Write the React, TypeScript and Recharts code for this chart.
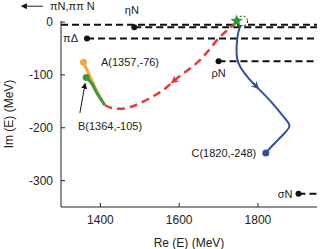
import React from "react";
import { ComposedChart, Line, XAxis, YAxis, ReferenceDot } from "recharts";

// pole trajectories, Re/Im of E in MeV
const orangePath = [
    { x: 1357, y: -76 }, { x: 1371, y: -99 }, { x: 1386, y: -123 },
    { x: 1399, y: -142 }, { x: 1411, y: -157 },
];
const greenPath = [
    { x: 1364, y: -105 }, { x: 1378, y: -116 }, { x: 1390, y: -133 },
    { x: 1402, y: -147 }, { x: 1411, y: -157 },
];
const redPath = [
    { x: 1411, y: -157 }, { x: 1430, y: -163 }, { x: 1455, y: -164 }, { x: 1480, y: -160 },
    { x: 1510, y: -150 }, { x: 1540, y: -138 }, { x: 1566, y: -125 }, { x: 1600, y: -103 },
    { x: 1650, y: -74 }, { x: 1692, y: -38 }, { x: 1720, y: -17 }, { x: 1746, y: 0 },
];
const bluePath = [
    { x: 1757, y: -4 }, { x: 1750, y: -20 }, { x: 1746, y: -45 }, { x: 1747, y: -68 },
    { x: 1756, y: -86 }, { x: 1776, y: -106 }, { x: 1800, y: -125 }, { x: 1836, y: -153 },
    { x: 1866, y: -180 }, { x: 1880, y: -196 }, { x: 1868, y: -210 }, { x: 1850, y: -224 },
    { x: 1834, y: -236 }, { x: 1820, y: -248 },
];
const redArrow = [{ x: 1600, y: -103 }, { x: 1582, y: -114 }];
const blueArrow = [{ x: 1786, y: -114 }, { x: 1800, y: -125 }];
const bArrow = [{ x: 1348, y: -172 }, { x: 1361, y: -117 }];

const thresholds = [
    { name: "", x: 1300, y: -5 },
    { name: "ηN", x: 1486, y: -10 },
    { name: "πΔ", x: 1366, y: -31 },
    { name: "ρN", x: 1700, y: -74 },
    { name: "σN", x: 1903, y: -325 },
];
const xTicks = [1400, 1600, 1800];
const yTicks = [0, -100, -200, -300];
const xMin = 1300;
const xMax = 1950;

const dotFirst = (color: string) => (p: any) =>
    p.index === 0
        ? <circle key={p.index} cx={p.cx} cy={p.cy} r={3} fill={color} />
        : <g key={p.index} />;

const StarShape = (p: any) => {
    const pts = [];
    for (let i = 0; i < 10; i++) {
        const r = i % 2 === 0 ? 6.5 : 2.8;
        const a = -Math.PI / 2 + (i * Math.PI) / 5;
        pts.push(`${p.cx + r * Math.cos(a)},${p.cy + r * Math.sin(a)}`);
    }
    return <polygon points={pts.join(" ")} fill="#1e9a2e" />;
};

// "<-- πN,ππ N" note, placed to the left of the plot's left edge
const LeftNote = (p: any) => {
    const { x, y } = p.viewBox;
    return (
        <g>
            <line x1={x - 18} y1={y} x2={x - 39} y2={y} stroke="#222" strokeWidth={1} markerEnd="url(#arK)" />
            <text x={x - 11} y={y} dy="0.35em" fill="#222" fontSize={11}>πN,ππ N</text>
        </g>
    );
};

const txt = { fill: "#222", fontSize: 11 };

export default function App() {
    return (
        <div style={{ position: "absolute", left: 0, top: 0, fontFamily: "Liberation Sans, Arial, sans-serif" }}>
            <svg width={0} height={0} style={{ position: "absolute" }}>
                <defs>
                    <marker id="arK" viewBox="0 0 10 10" refX="8" refY="5" markerWidth="6" markerHeight="6" orient="auto" markerUnits="userSpaceOnUse">
                        <path d="M0,0 L10,5 L0,10 z" fill="#111" />
                    </marker>
                    <marker id="arR" viewBox="0 0 10 10" refX="8" refY="5" markerWidth="8" markerHeight="8" orient="auto" markerUnits="userSpaceOnUse">
                        <path d="M0,0 L10,5 L0,10 L3,5 z" fill="#e8383a" />
                    </marker>
                    <marker id="arB" viewBox="0 0 10 10" refX="8" refY="5" markerWidth="8" markerHeight="8" orient="auto" markerUnits="userSpaceOnUse">
                        <path d="M0,0 L10,5 L0,10 L3,5 z" fill="#2f4fa3" />
                    </marker>
                </defs>
            </svg>
            <ComposedChart width={332} height={249} margin={{ top: 21, right: 15, left: 0, bottom: 0 }}>
                <XAxis xAxisId={0} dataKey="x" type="number" domain={[xMin, xMax]} ticks={xTicks}
                    allowDataOverflow stroke="#222" tickSize={-4} tickMargin={12} height={42}
                    tick={{ fontSize: 12, fill: "#222" }}
                    label={{ value: "Re (E) (MeV)", position: "insideBottom", offset: 2, fontSize: 12, fill: "#222" }} />
                <XAxis xAxisId="top" orientation="top" dataKey="x" type="number" domain={[xMin, xMax]}
                    ticks={xTicks} allowDataOverflow stroke="#222" tickSize={-4} tick={false} height={0} />
                <YAxis yAxisId={0} dataKey="y" type="number" domain={[-350, 2]} ticks={yTicks}
                    allowDataOverflow stroke="#222" tickSize={-4} tickMargin={12} width={61}
                    tick={{ fontSize: 12, fill: "#222" }}
                    label={{ value: "Im (E) (MeV)", angle: -90, position: "insideLeft", offset: 9, fontSize: 12, fill: "#222", style: { textAnchor: "middle" } }} />
                <YAxis yAxisId="r" orientation="right" dataKey="y" type="number" domain={[-350, 2]}
                    ticks={yTicks} allowDataOverflow stroke="#222" tickSize={-4} tick={false} width={0} />

                {thresholds.map((t, i) => (
                    <Line key={"t" + i} data={[{ x: t.x, y: t.y }, { x: xMax, y: t.y }]} dataKey="y"
                        type="linear" stroke="#111" strokeWidth={2} strokeDasharray="7 4"
                        dot={t.name ? dotFirst("#111") : false} activeDot={false} isAnimationActive={false} />
                ))}

                <Line data={redPath} dataKey="y" type="natural" stroke="#e8383a" strokeWidth={2.5}
                    strokeDasharray="8 5" dot={false} activeDot={false} isAnimationActive={false} />
                <Line data={redArrow} dataKey="y" type="linear" stroke="#e8383a" strokeWidth={1.5}
                    markerEnd="url(#arR)" dot={false} activeDot={false} isAnimationActive={false} />
                <Line data={orangePath} dataKey="y" type="natural" stroke="#f4a93a" strokeWidth={3}
                    dot={false} activeDot={false} isAnimationActive={false} />
                <Line data={greenPath} dataKey="y" type="natural" stroke="#3c9a3c" strokeWidth={3}
                    dot={false} activeDot={false} isAnimationActive={false} />
                <Line data={bluePath} dataKey="y" type="natural" stroke="#2f4fa3" strokeWidth={2}
                    dot={false} activeDot={false} isAnimationActive={false} />
                <Line data={blueArrow} dataKey="y" type="linear" stroke="#2f4fa3" strokeWidth={1.5}
                    markerEnd="url(#arB)" dot={false} activeDot={false} isAnimationActive={false} />
                <Line data={bArrow} dataKey="y" type="linear" stroke="#111" strokeWidth={1}
                    markerEnd="url(#arK)" dot={false} activeDot={false} isAnimationActive={false} />

                <ReferenceDot x={1761} y={2} r={5} fill="#fff" stroke="#111" strokeWidth={1}
                    strokeDasharray="2 2" ifOverflow="visible" />
                <ReferenceDot x={1746} y={2} r={6} shape={StarShape} ifOverflow="visible" />

                <ReferenceDot x={1357} y={-76} r={3.5} fill="#f4a93a" stroke="none"
                    label={{ value: "A(1357,-76)", position: "right", offset: 14, ...txt }} />
                <ReferenceDot x={1364} y={-105} r={3.5} fill="#3c9a3c" stroke="none" />
                <ReferenceDot x={1820} y={-248} r={3.5} fill="#2f4fa3" stroke="none"
                    label={{ value: "C(1820,-248)", position: "left", offset: 6, ...txt }} />
                <ReferenceDot x={1343} y={-197} r={0} stroke="none" ifOverflow="visible"
                    label={{ value: "B(1364,-105)", position: "right", offset: 0, ...txt }} />

                <ReferenceDot x={1366} y={-31} r={0} stroke="none"
                    label={{ value: "πΔ", position: "left", offset: 9, ...txt }} />
                <ReferenceDot x={1700} y={-74} r={0} stroke="none"
                    label={{ value: "ρN", position: "bottom", offset: 8, ...txt }} />
                <ReferenceDot x={1903} y={-325} r={0} stroke="none"
                    label={{ value: "σN", position: "left", offset: 6, ...txt }} />
                <ReferenceDot x={1480} y={23} r={0} stroke="none" ifOverflow="visible"
                    label={{ value: "ηN", position: "center", ...txt }} />
                <ReferenceDot x={xMin} y={30} r={0} stroke="none" ifOverflow="visible"
                    label={<LeftNote />} />
            </ComposedChart>
        </div>
    );
}
